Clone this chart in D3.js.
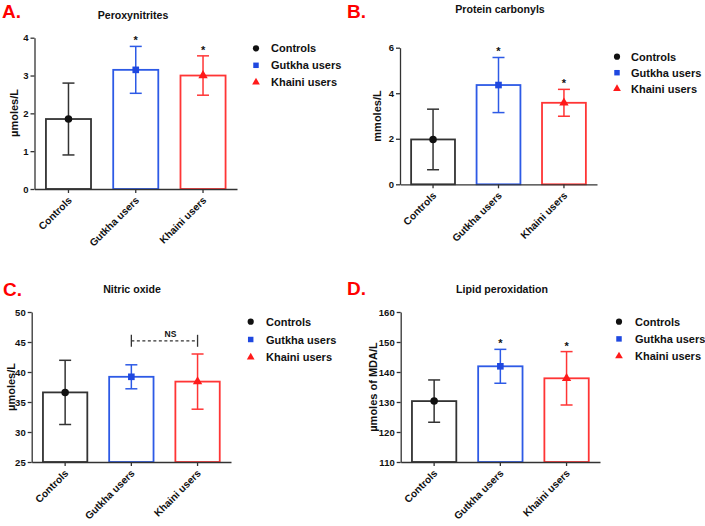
<!DOCTYPE html>
<html>
<head>
<meta charset="utf-8">
<script src="https://cdn.jsdelivr.net/npm/d3@7/dist/d3.min.js"></script>
<style>
  body { margin: 0; background: #fff; }
  svg { display: block; font-family: "Liberation Sans", Arial, sans-serif; }
  .axis path, .axis line { stroke: #333; stroke-width: 1.3px; }
  .axis text { font-size: 9.5px; font-weight: bold; fill: #111; }
</style>
</head>
<body>
<div id="chart"></div>
<script>
// groups and colours
const groups = ["Controls", "Gutkha users", "Khaini users"];
const groupColors = ["#333333", "#2d5ae6", "#ff3535"];
const markerColors = ["#111111", "#1f48e0", "#ff1a1a"];

// A. Peroxynitrites
const peroxMean = [1.85, 3.15, 3.0];
const peroxSD = [0.95, 0.62, 0.52];
const peroxTicks = [0, 1, 2, 3, 4];
const peroxStars = ["", "*", "*"];

// B. Protein carbonyls
const carbMean = [1.97, 4.36, 3.58];
const carbSD = [1.33, 1.21, 0.59];
const carbTicks = [0, 2, 4, 6];
const carbStars = ["", "*", "*"];

// C. Nitric oxide
const nitricMean = [36.6, 39.2, 38.4];
const nitricSD = [5.35, 2.0, 4.6];
const nitricTicks = [25, 30, 35, 40, 45, 50];
const nitricStars = ["", "", ""];
const nitricBracket = { from: "Gutkha users", to: "Khaini users", value: 45.2, label: "NS" };

// D. Lipid peroxidation
const lipidMean = [130.3, 141.9, 137.9];
const lipidSD = [7.05, 5.65, 8.9];
const lipidTicks = [110, 120, 130, 140, 150, 160];
const lipidStars = ["", "*", "*"];

const panels = [
  { letter: "A.", title: "Peroxynitrites", ylab: "\u00b5moles/L", mean: peroxMean, sd: peroxSD, ticks: peroxTicks, stars: peroxStars,
    box: { x0: 34.5, x1: 237, y0: 37.7, y1: 189 }, letterPos: [2, 18], titlePos: [133, 19], ylabPos: [18, 113],
    legend: { x: 256, y: 48.3, dy: 17, tx: 271 } },
  { letter: "B.", title: "Protein carbonyls", ylab: "mmoles/L", mean: carbMean, sd: carbSD, ticks: carbTicks, stars: carbStars,
    box: { x0: 400, x1: 597, y0: 47.7, y1: 184.3 }, letterPos: [347, 18], titlePos: [500, 13], ylabPos: [381, 116],
    legend: { x: 617, y: 56.7, dy: 16, tx: 631 } },
  { letter: "C.", title: "Nitric oxide", ylab: "\u00b5moles/L", mean: nitricMean, sd: nitricSD, ticks: nitricTicks, stars: nitricStars,
    bracket: nitricBracket,
    box: { x0: 31.7, x1: 231, y0: 312, y1: 462 }, letterPos: [3, 296], titlePos: [132, 293], ylabPos: [15, 387],
    legend: { x: 250.7, y: 321.7, dy: 17.8, tx: 266 } },
  { letter: "D.", title: "Lipid peroxidation", ylab: "\u00b5moles of MDA/L", mean: lipidMean, sd: lipidSD, ticks: lipidTicks, stars: lipidStars,
    box: { x0: 400.7, x1: 600, y0: 312, y1: 462 }, letterPos: [347, 295], titlePos: [502, 293], ylabPos: [377, 387],
    legend: { x: 619, y: 321.7, dy: 17.2, tx: 635 } }
];

const symbols = [d3.symbolCircle, d3.symbolSquare, d3.symbolTriangle];

const svg = d3.select("#chart").append("svg")
  .attr("width", 705)
  .attr("height", 526);

panels.forEach(function(p) {
  const g = svg.append("g");
  const b = p.box;

  const x = d3.scaleBand()
    .domain(groups)
    .range([b.x0, b.x1])
    .paddingInner(0.33)
    .paddingOuter(0.17);

  const y = d3.scaleLinear()
    .domain([p.ticks[0], p.ticks[p.ticks.length - 1]])
    .range([b.y1, b.y0]);

  // panel letter + title
  g.append("text")
    .attr("x", p.letterPos[0]).attr("y", p.letterPos[1])
    .style("font-size", "19px").style("font-weight", "bold").style("fill", "#ff0000")
    .text(p.letter);

  g.append("text")
    .attr("x", p.titlePos[0]).attr("y", p.titlePos[1])
    .attr("text-anchor", "middle")
    .style("font-size", "10.6px").style("font-weight", "bold").style("fill", "#111")
    .text(p.title);

  // bars
  g.selectAll("rect.bar")
    .data(groups)
    .enter().append("rect")
    .attr("class", "bar")
    .attr("x", d => x(d))
    .attr("y", (d, i) => y(p.mean[i]))
    .attr("width", x.bandwidth())
    .attr("height", (d, i) => y(p.ticks[0]) - y(p.mean[i]))
    .style("fill", "#fff")
    .style("stroke", (d, i) => groupColors[i])
    .style("stroke-width", "1.8px");

  // error bars
  const err = g.selectAll("g.err")
    .data(groups)
    .enter().append("g")
    .attr("class", "err")
    .style("stroke", (d, i) => groupColors[i])
    .style("stroke-width", "1.5px");

  err.append("line")
    .attr("x1", d => x(d) + x.bandwidth() / 2)
    .attr("x2", d => x(d) + x.bandwidth() / 2)
    .attr("y1", (d, i) => y(p.mean[i] - p.sd[i]))
    .attr("y2", (d, i) => y(p.mean[i] + p.sd[i]));
  [-1, 1].forEach(function(s) {
    err.append("line")
      .attr("x1", d => x(d) + x.bandwidth() / 2 - 6)
      .attr("x2", d => x(d) + x.bandwidth() / 2 + 6)
      .attr("y1", (d, i) => y(p.mean[i] + s * p.sd[i]))
      .attr("y2", (d, i) => y(p.mean[i] + s * p.sd[i]));
  });

  // mean markers
  g.selectAll("path.mk")
    .data(groups)
    .enter().append("path")
    .attr("class", "mk")
    .attr("d", (d, i) => d3.symbol().type(symbols[i]).size(i === 2 ? 38 : 44)())
    .attr("transform", (d, i) => `translate(${x(d) + x.bandwidth() / 2},${y(p.mean[i])})`)
    .style("fill", (d, i) => markerColors[i]);

  // significance stars
  g.selectAll("text.star")
    .data(groups)
    .enter().append("text")
    .attr("class", "star")
    .attr("x", d => x(d) + x.bandwidth() / 2)
    .attr("y", (d, i) => y(p.mean[i] + p.sd[i]) - 2)
    .attr("text-anchor", "middle")
    .style("font-size", "11px").style("font-weight", "bold").style("fill", "#111")
    .text((d, i) => p.stars[i]);

  // NS bracket
  if (p.bracket) {
    const bx1 = x(p.bracket.from) + x.bandwidth() / 2;
    const bx2 = x(p.bracket.to) + x.bandwidth() / 2;
    const by = y(p.bracket.value);
    g.append("line")
      .attr("x1", bx1).attr("x2", bx2).attr("y1", by).attr("y2", by)
      .style("stroke", "#333").style("stroke-width", "1.3px").style("stroke-dasharray", "3,2.5");
    [bx1, bx2].forEach(function(bx) {
      g.append("line")
        .attr("x1", bx).attr("x2", bx).attr("y1", by - 6).attr("y2", by + 6)
        .style("stroke", "#333").style("stroke-width", "1.3px");
    });
    g.append("text")
      .attr("x", (bx1 + bx2) / 2 + 6).attr("y", by - 4)
      .attr("text-anchor", "middle")
      .style("font-size", "8.5px").style("font-weight", "bold").style("fill", "#111")
      .text(p.bracket.label);
  }

  // axes
  g.append("g")
    .attr("class", "axis")
    .attr("transform", `translate(${b.x0},0)`)
    .call(d3.axisLeft(y).tickValues(p.ticks).tickFormat(d3.format("d"))
      .tickSize(4).tickSizeOuter(0).tickPadding(2));

  const xa = g.append("g")
    .attr("class", "axis")
    .attr("transform", `translate(0,${b.y1})`)
    .call(d3.axisBottom(x).tickSize(4).tickSizeOuter(0));
  xa.selectAll("text")
    .attr("text-anchor", "end")
    .attr("dy", null)
    .attr("y", 0)
    .attr("transform", "translate(4,12) rotate(-45)")
    .style("font-size", "10.2px");

  // y label
  g.append("text")
    .attr("transform", `translate(${p.ylabPos[0]},${p.ylabPos[1]}) rotate(-90)`)
    .attr("text-anchor", "middle")
    .style("font-size", "11px").style("font-weight", "bold").style("fill", "#111")
    .text(p.ylab);

  // legend
  const leg = g.selectAll("g.leg")
    .data(groups)
    .enter().append("g")
    .attr("class", "leg")
    .attr("transform", (d, i) => `translate(0,${p.legend.y + i * p.legend.dy})`);
  leg.append("path")
    .attr("d", (d, i) => d3.symbol().type(symbols[i]).size(i === 2 ? 26 : 30)())
    .attr("transform", `translate(${p.legend.x},0)`)
    .style("fill", (d, i) => markerColors[i]);
  leg.append("text")
    .attr("x", p.legend.tx)
    .attr("y", 4)
    .style("font-size", "11px").style("font-weight", "bold").style("fill", "#111")
    .text(d => d);
});
</script>
</body>
</html>
